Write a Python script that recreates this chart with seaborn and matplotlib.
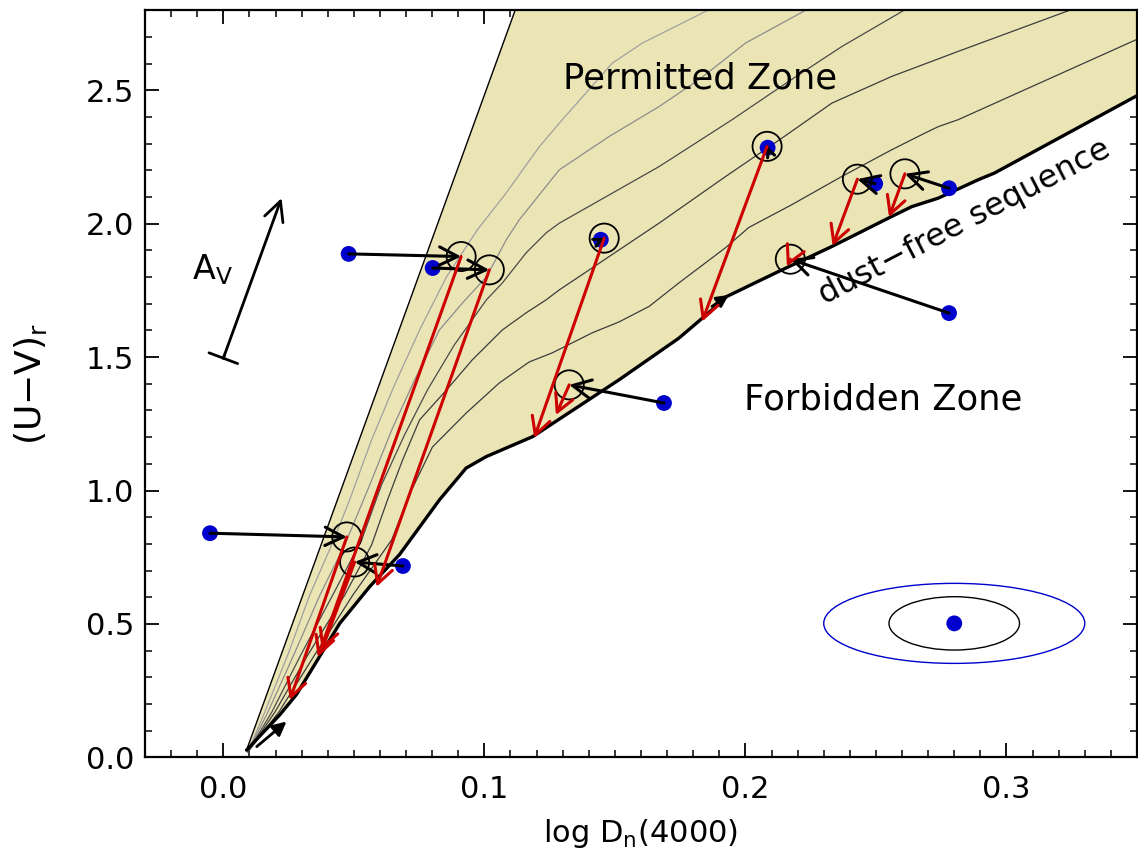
import numpy as np
import pandas as pd
import matplotlib
matplotlib.use("Agg")
import matplotlib.pyplot as plt
import seaborn as sns
from matplotlib.patches import Ellipse
from matplotlib.ticker import MultipleLocator, FormatStrFormatter

# ---------------- data ----------------
# observed galaxies (blue dots)
obs_x = [0.0480, 0.0802, 0.1446, 0.1688, 0.2085, 0.2497, 0.2780, 0.2780, -0.0051, 0.0688]
obs_y = [1.887, 1.834, 1.940, 1.328, 2.285, 2.150, 2.133, 1.665, 0.840, 0.717]
# model match (open circles)
mod_x = [0.0911, 0.1019, 0.1459, 0.1325, 0.2083, 0.2429, 0.2611, 0.2172, 0.0473, 0.0503]
mod_y = [1.877, 1.827, 1.946, 1.396, 2.290, 2.167, 2.187, 1.867, 0.826, 0.732]
# dust-corrected positions (red arrow ends)
dc_x = [0.0362, 0.0587, 0.1191, 0.1274, 0.1834, 0.2334, 0.2550, 0.2159, 0.0255, 0.0377]
dc_y = [0.376, 0.639, 1.197, 1.283, 1.633, 1.917, 2.025, 1.840, 0.215, 0.402]

# dust-free sequence (lower boundary)
seq_x = [0.0089, 0.0217, 0.0280, 0.0446, 0.0561, 0.0675, 0.0828, 0.0930, 0.1007, 0.1185,
         0.1516, 0.1745, 0.1872, 0.1928, 0.2127, 0.2332, 0.2560, 0.2637, 0.2739, 0.2892,
         0.2954, 0.3483, 0.3520]
seq_y = [0.027, 0.160, 0.235, 0.502, 0.640, 0.760, 0.965, 1.084, 1.127, 1.202,
         1.415, 1.571, 1.677, 1.727, 1.821, 1.915, 2.027, 2.064, 2.096, 2.165,
         2.190, 2.471, 2.490]
# upper envelope of the permitted zone
env_x = [0.0089, 0.1155]
env_y = [0.027, 2.900]

# model tracks inside the permitted zone
trk_a_x = [0.0094, 0.0159, 0.0247, 0.0331, 0.0415, 0.0484, 0.0568, 0.0656, 0.0752, 0.0855,
           0.0973, 0.1084, 0.1210, 0.1287, 0.1389, 0.1490, 0.1605, 0.1707, 0.1860]
trk_a_y = [0.020, 0.170, 0.384, 0.608, 0.796, 0.965, 1.190, 1.396, 1.602, 1.801,
           1.977, 2.116, 2.288, 2.377, 2.490, 2.602, 2.677, 2.727, 2.802]
trk_b_x = [0.0094, 0.0171, 0.0270, 0.0370, 0.0465, 0.0561, 0.0645, 0.0733, 0.0828, 0.0916,
           0.1008, 0.1084, 0.1134, 0.1287, 0.1478, 0.1669, 0.1822, 0.2000, 0.2234]
trk_b_y = [0.020, 0.170, 0.384, 0.608, 0.796, 1.021, 1.227, 1.415, 1.602, 1.703,
           1.801, 1.940, 2.015, 2.202, 2.327, 2.439, 2.540, 2.677, 2.802]
trk_c_x = [0.0094, 0.0186, 0.0297, 0.0419, 0.0530, 0.0606, 0.0694, 0.0782, 0.0885, 0.1008,
           0.1069, 0.1160, 0.1237, 0.1287, 0.1669, 0.1949, 0.2165, 0.2369, 0.2611]
trk_c_y = [0.020, 0.170, 0.384, 0.608, 0.815, 1.021, 1.208, 1.377, 1.546, 1.715,
           1.778, 1.891, 1.966, 2.002, 2.214, 2.390, 2.533, 2.664, 2.802]
trk_d_x = [0.0094, 0.0198, 0.0324, 0.0465, 0.0568, 0.0629, 0.0687, 0.0752, 0.0855, 0.0954,
           0.1069, 0.1160, 0.1237, 0.1287, 0.1669, 0.1924, 0.2140, 0.2331, 0.2560, 0.2815, 0.3247]
trk_d_y = [0.020, 0.170, 0.384, 0.608, 0.796, 0.965, 1.115, 1.265, 1.377, 1.490,
           1.602, 1.666, 1.715, 1.752, 2.002, 2.177, 2.321, 2.452, 2.552, 2.646, 2.802]
trk_e_x = [0.0094, 0.0213, 0.0350, 0.0496, 0.0645, 0.0721, 0.0801, 0.0931, 0.1057, 0.1172,
           0.1260, 0.1413, 0.1516, 0.1631, 0.1745, 0.1925, 0.2013, 0.2177, 0.2369, 0.2560,
           0.2688, 0.2739, 0.2815, 0.3495]
trk_e_y = [0.020, 0.170, 0.384, 0.608, 0.815, 1.002, 1.163, 1.291, 1.403, 1.482,
           1.516, 1.591, 1.632, 1.690, 1.778, 1.911, 1.986, 2.071, 2.177, 2.277,
           2.340, 2.364, 2.390, 2.689]

# error ellipse
err_x, err_y = 0.280, 0.502
err_outer = (0.100, 0.300)
err_inner = (0.050, 0.200)

# A_V vector
av_x = [0.0000, 0.0223]
av_y = [1.496, 2.096]

# ---------------- style ----------------
sns.set_theme(style="ticks")
plt.rcParams['font.family'] = ['DejaVu Sans']
plt.rcParams['mathtext.default'] = 'regular'
for k in ['text.color', 'axes.labelcolor', 'xtick.color', 'ytick.color', 'axes.edgecolor']:
    plt.rcParams[k] = 'black'

fig = plt.figure(figsize=(11.38, 8.61), dpi=100)
ax = fig.add_axes([145/1138, 103.7/861, (1137-145)/1138, (757.3-10.3)/861])

# permitted zone fill
poly_x = env_x + [0.40, 0.40] + seq_x[::-1]
poly_y = env_y + [2.90, seq_y[-1]] + seq_y[::-1]
ax.fill(poly_x, poly_y, color='#EBE5B6', zorder=1, lw=0)

# model tracks
tracks = []
for name, tx, ty in [('a', trk_a_x, trk_a_y), ('b', trk_b_x, trk_b_y), ('c', trk_c_x, trk_c_y),
                     ('d', trk_d_x, trk_d_y), ('e', trk_e_x, trk_e_y)]:
    tracks.append(pd.DataFrame({'x': tx, 'y': ty, 'track': name}))
tracks = pd.concat(tracks)
pal = {'a': '#a0a0a0', 'b': '#8c8c8c', 'c': '#4a4a4a', 'd': '#3c3c3c', 'e': '#3c3c3c'}
sns.lineplot(data=tracks, x='x', y='y', hue='track', units='track', estimator=None,
             sort=False, palette=pal, lw=0.9, legend=False, ax=ax, zorder=2)

# boundaries
sns.lineplot(x=env_x, y=env_y, sort=False, estimator=None, color='black', lw=1.0, ax=ax, zorder=3)
sns.lineplot(x=seq_x, y=seq_y, sort=False, estimator=None, color='black', lw=2.4, ax=ax, zorder=3)

# blue observed points
sns.scatterplot(x=obs_x, y=obs_y, color='#0000CC', s=130, edgecolor='none', ax=ax, zorder=5)

# black arrows: observed -> model
for x0, y0, x1, y1 in zip(obs_x, obs_y, mod_x, mod_y):
    d = abs(x1 - x0) * 10 + abs(y1 - y0)
    if d < 0.004:
        continue
    ms = 22 if d > 0.05 else 9
    ax.annotate('', xy=(x1, y1), xytext=(x0, y0),
                arrowprops=dict(arrowstyle='->, head_length=0.6, head_width=0.3',
                                color='black', lw=2.2, mutation_scale=ms,
                                shrinkA=0, shrinkB=0), zorder=6)

# open circles
ax.scatter(mod_x, mod_y, s=440, facecolors='none', edgecolors='black', linewidths=1.3, zorder=7)

# red arrows: model -> dust corrected
for x0, y0, x1, y1 in zip(mod_x, mod_y, dc_x, dc_y):
    ax.annotate('', xy=(x1, y1), xytext=(x0, y0),
                arrowprops=dict(arrowstyle='->, head_length=0.6, head_width=0.32',
                                color='#CC0000', lw=2.2, mutation_scale=21,
                                shrinkA=0, shrinkB=0), zorder=8)

# small black arrows on sequence
ax.annotate('', xy=(0.0242, 0.134), xytext=(0.0128, 0.040),
            arrowprops=dict(arrowstyle='-|>, head_length=0.6, head_width=0.3',
                            color='black', lw=2.0, mutation_scale=14, shrinkA=0, shrinkB=0), zorder=4)
ax.annotate('', xy=(0.1936, 1.733), xytext=(0.1872, 1.690),
            arrowprops=dict(arrowstyle='-|>, head_length=0.6, head_width=0.3',
                            color='black', lw=2.0, mutation_scale=12, shrinkA=0, shrinkB=0), zorder=4)

# error ellipse
ax.add_patch(Ellipse((err_x, err_y), *err_outer, fill=False, ec='#0000CC', lw=1.0, zorder=5))
ax.add_patch(Ellipse((err_x, err_y), *err_inner, fill=False, ec='black', lw=1.0, zorder=5))
ax.scatter([err_x], [err_y], s=130, color='#0000CC', edgecolors='none', zorder=6)

# A_V vector
ax.annotate('', xy=(av_x[1], av_y[1]), xytext=(av_x[0], av_y[0]),
            arrowprops=dict(arrowstyle='->, head_length=0.7, head_width=0.35',
                            color='black', lw=2.0, mutation_scale=20, shrinkA=0, shrinkB=0), zorder=6)
ax.annotate('', xy=(av_x[0] + 0.0005, av_y[0] + 0.013), xytext=(av_x[0], av_y[0]),
            arrowprops=dict(arrowstyle=']-, widthA=0.55, lengthA=0, angleA=0',
                            color='black', lw=2.0, mutation_scale=20, shrinkA=0, shrinkB=0), zorder=6)
ax.text(-0.0041, 1.826, 'A$_V$', fontsize=24, ha='center', va='center')

# texts
ax.text(0.1825, 2.543, 'Permitted Zone', fontsize=25.5, ha='center', va='center', zorder=9)
ax.text(0.2528, 1.343, 'Forbidden Zone', fontsize=25.5, ha='center', va='center', zorder=9)
ax.text(0.2839, 2.006, 'dust\u2212free sequence', fontsize=23, ha='center', va='center',
        rotation=27.5, rotation_mode='anchor', zorder=9)

# axes
ax.set_xlim(-0.03, 0.35)
ax.set_ylim(0.0, 2.8)
ax.xaxis.set_major_locator(MultipleLocator(0.1))
ax.xaxis.set_minor_locator(MultipleLocator(0.01))
ax.yaxis.set_major_locator(MultipleLocator(0.5))
ax.yaxis.set_minor_locator(MultipleLocator(0.1))
ax.xaxis.set_major_formatter(FormatStrFormatter('%.1f'))
ax.yaxis.set_major_formatter(FormatStrFormatter('%.1f'))
ax.tick_params(which='both', direction='in', top=True, right=True, colors='black')
ax.tick_params(which='major', length=10, width=1.3, labelsize=22)
ax.tick_params(which='minor', length=5, width=1.1)
ax.tick_params(axis='x', which='major', pad=13)
ax.tick_params(axis='y', which='major', pad=8)
for sp in ax.spines.values():
    sp.set_linewidth(1.6)
    sp.set_color('black')
ax.set_xlabel('log D$_n$(4000)', fontsize=22, labelpad=9)
ax.set_ylabel('(U\u2212V)$_r$', fontsize=26, labelpad=26)

fig.savefig('out.png', dpi=100)
